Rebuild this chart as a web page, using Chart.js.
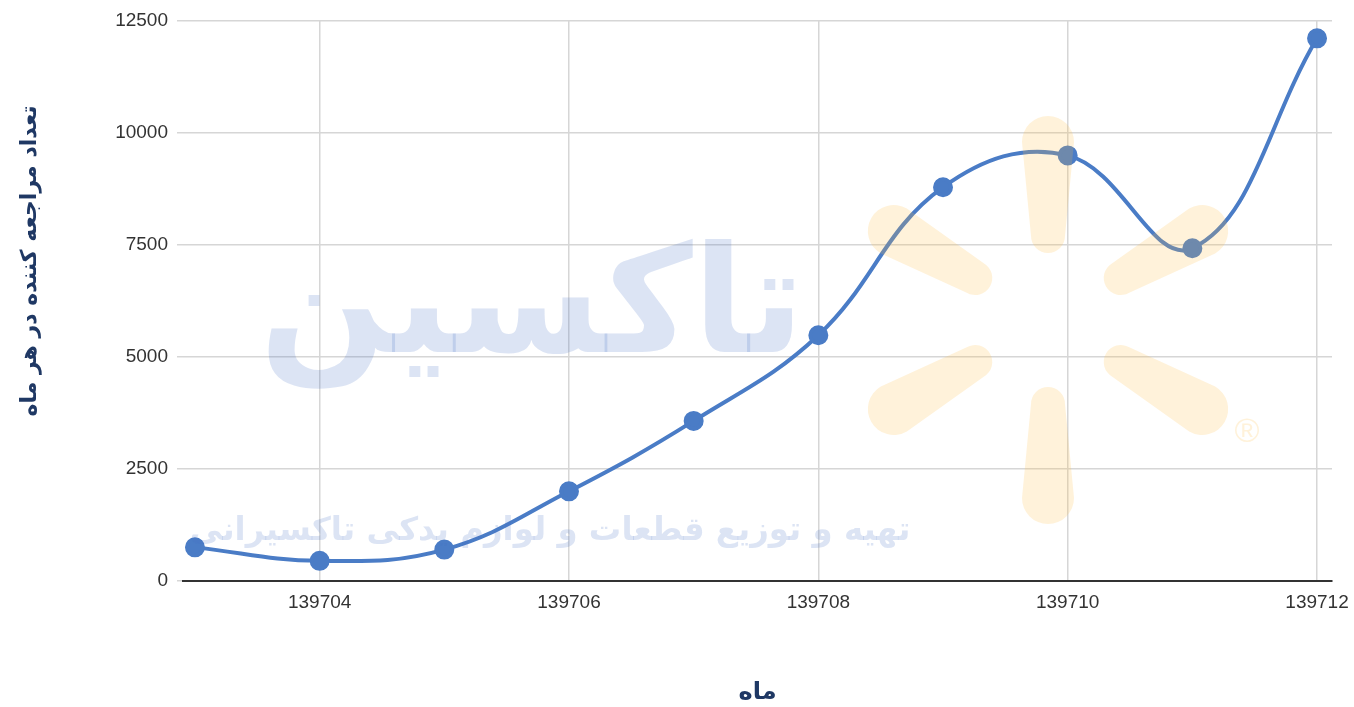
<!DOCTYPE html>
<html>
<head>
<meta charset="utf-8">
<script src="https://cdn.jsdelivr.net/npm/chart.js@4/dist/chart.umd.min.js"></script>
<style>
  html, body { margin: 0; padding: 0; background: #fff; }
  #wrap { width: 1354px; height: 707px; }
</style>
</head>
<body>
<div id="wrap"><canvas id="visits"></canvas></div>
<script>
// monthly visitors (Persian calendar months, 1397)
const months = ['139703', '139704', '139705', '139706', '139707', '139708', '139709', '139710', '139711', '139712'];
const visitors = [750, 450, 700, 2000, 3570, 5480, 8780, 9490, 7420, 12100];
const xTicks = [139704, 139706, 139708, 139710, 139712];
const yTicks = [0, 2500, 5000, 7500, 10000, 12500];

const yTitle = 'تعداد مراجعه کننده در هر ماه';
const xTitle = 'ماه';
const brand = 'تاکسین';
const slogan = 'تهیه و توزیع قطعات و لوازم یدکی تاکسیرانی';

const points = months.map((m, i) => ({ x: Number(m), y: visitors[i] }));

// fit text into a given width
function fitFont(ctx, text, weight, family, width) {
  ctx.font = weight + ' 100px ' + family;
  const w = ctx.measureText(text).width;
  return weight + ' ' + (100 * width / w).toFixed(1) + 'px ' + family;
}

function arm(ctx, cx, cy, deg, d1, r1, d2, r2) {
  const a = deg * Math.PI / 180;
  const ux = Math.cos(a), uy = Math.sin(a);
  const x1 = cx + d1 * ux, y1 = cy + d1 * uy;
  const x2 = cx + d2 * ux, y2 = cy + d2 * uy;
  ctx.beginPath();
  ctx.arc(x2, y2, r2, a - Math.PI / 2, a + Math.PI / 2);
  ctx.arc(x1, y1, r1, a + Math.PI / 2, a + Math.PI * 1.5);
  ctx.closePath();
  ctx.fill();
}

const watermark = {
  id: 'watermark',
  afterDatasetsDraw(chart) {
    const ctx = chart.ctx;
    ctx.save();
    ctx.textAlign = 'center';
    ctx.textBaseline = 'alphabetic';
    ctx.fillStyle = 'rgba(68, 114, 196, 0.19)';
    ctx.font = fitFont(ctx, brand, 'bold', '"DejaVu Sans"', 545);
    ctx.fillText(brand, 532, 352);
    ctx.font = fitFont(ctx, slogan, 'bold', '"DejaVu Sans"', 720);
    ctx.fillText(slogan, 550, 540);

    // spark logo
    ctx.fillStyle = 'rgba(253, 190, 70, 0.2)';
    [-90, -30, 30, 90, 150, 210].forEach(d => arm(ctx, 1048, 320, d, 84, 17, 178, 26));
    ctx.font = '34px "Liberation Sans"';
    ctx.textBaseline = 'middle';
    ctx.fillText('®', 1247, 433);
    ctx.restore();
  }
};

// y axis title sits a little above the plot's middle
const sideTitle = {
  id: 'sideTitle',
  afterDraw(chart) {
    const ctx = chart.ctx;
    ctx.save();
    ctx.translate(30, 261);
    ctx.rotate(-Math.PI / 2);
    ctx.textAlign = 'center';
    ctx.textBaseline = 'middle';
    ctx.fillStyle = '#1f3864';
    ctx.font = 'bold 22px "DejaVu Sans"';
    ctx.fillText(yTitle, 0, 0);
    ctx.restore();
  }
};

const ctx = document.getElementById('visits').getContext('2d');
new Chart(ctx, {
  type: 'line',
  data: {
    datasets: [{
      data: points,
      borderColor: '#4a7cc6',
      backgroundColor: '#4a7cc6',
      borderWidth: 4,
      pointRadius: 8,
      pointHoverRadius: 8,
      tension: 0.4,
      fill: false
    }]
  },
  options: {
    responsive: true,
    maintainAspectRatio: false,
    animation: false,
    layout: { padding: { top: 20, right: 22, left: 0, bottom: 0 } },
    plugins: {
      legend: { display: false },
      tooltip: { enabled: false }
    },
    scales: {
      x: {
        type: 'linear',
        min: 139702.904,
        max: 139712.12,
        afterBuildTicks: s => { s.ticks = xTicks.map(v => ({ value: v })); },
        afterFit: s => { s.height = 126; },
        grid: { color: '#d6d6d6', lineWidth: 1.5, tickLength: 10, tickColor: 'rgba(0,0,0,0)' },
        border: { color: '#333', width: 2 },
        ticks: {
          padding: 0,
          color: '#333',
          font: { family: '"Liberation Sans", Arial', size: 19 },
          callback: v => String(v)
        },
        title: {
          display: true,
          text: xTitle,
          color: '#1f3864',
          padding: { top: 5, bottom: 0 },
          font: { family: '"DejaVu Sans"', size: 24, weight: 'bold' }
        }
      },
      y: {
        min: 0,
        max: 12500,
        afterBuildTicks: s => { s.ticks = yTicks.map(v => ({ value: v })); },
        afterFit: s => { s.width = 183; },
        grid: { color: '#d6d6d6', lineWidth: 1.5, tickLength: 6 },
        border: { display: false },
        ticks: {
          padding: 9,
          color: '#333',
          font: { family: '"Liberation Sans", Arial', size: 19 },
          callback: v => String(v)
        }
      }
    }
  },
  plugins: [watermark, sideTitle]
});
</script>
</body>
</html>
